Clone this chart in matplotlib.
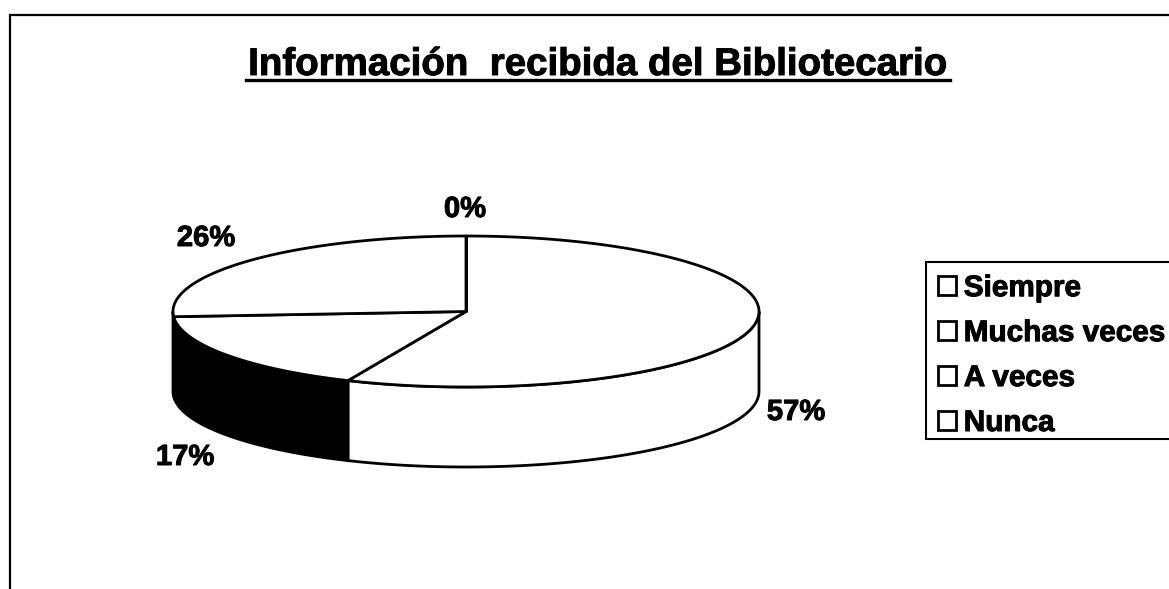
import matplotlib
matplotlib.use("Agg")
import matplotlib.pyplot as plt
from matplotlib.patches import Patch, Rectangle
import matplotlib.patheffects as pe
import numpy as np

plt.rcParams["font.family"] = ["Liberation Sans", "DejaVu Sans"]

title = "Información  recibida del Bibliotecario"
categories = ["Siempre", "Muchas veces", "A veces", "Nunca"]
values = [56.6, 17.3, 26.1, 0]
side_colors = ["white", "black", "white", "white"]

cx, cy = 466, 311.5
a, b = 293, 75.5
depth = 80

heavy = [pe.withStroke(linewidth=0.7, foreground="black")]


def rim(t):
    # t in degrees, clockwise from the top of the pie
    r = np.radians(t)
    return cx + a * np.sin(r), cy - b * np.cos(r)


fig = plt.figure(figsize=(11.69, 5.89), dpi=100)
ax = fig.add_axes([0, 0, 1, 1])
ax.set_xlim(0, 1169)
ax.set_ylim(589, 0)
ax.axis("off")

# frame of the chart area, runs off the right and bottom of the picture
ax.plot([10, 10, 1169], [589, 15, 15], color="black", lw=1.6, solid_joinstyle="miter")

ax.text(598, 75, title, fontsize=27.7, fontweight="bold", ha="center", va="baseline", path_effects=heavy)
ax.plot([246, 950], [80, 80], color="black", lw=2.4)

edges = np.cumsum([0] + values) * 3.6

# side wall, only the front half of the rim shows
for start, end, color in zip(edges[:-1], edges[1:], side_colors):
    lo, hi = max(start, 90), min(end, 270)
    if hi <= lo:
        continue
    t = np.linspace(lo, hi, 80)
    x, y = rim(t)
    ax.fill(
        np.r_[x, x[::-1]],
        np.r_[y, y[::-1] + depth],
        facecolor=color,
        edgecolor="black",
        lw=2,
        zorder=2,
    )

# top face
for start, end in zip(edges[:-1], edges[1:]):
    t = np.linspace(start, end, 120)
    x, y = rim(t)
    ax.fill(
        np.r_[cx, x],
        np.r_[cy, y],
        facecolor="white",
        edgecolor="black",
        lw=2,
        joinstyle="round",
        zorder=3,
    )

label_pos = [(796, 412), (185, 457), (206, 238), (465, 209)]
for v, (lx, ly) in zip(values, label_pos):
    ax.text(lx, ly, f"{v:.0f}%", fontsize=21, fontweight="bold", ha="center", va="center", zorder=4, path_effects=heavy)

# legend box runs off the right of the picture
ax.add_patch(Rectangle((926, 262), 260, 177, facecolor="white", edgecolor="black", lw=1.5))

handles = [Patch(facecolor="white", edgecolor="black", lw=2) for _ in categories]
leg = ax.legend(
    handles,
    categories,
    loc="upper left",
    bbox_to_anchor=(926, 262),
    bbox_transform=ax.transData,
    borderaxespad=0,
    prop={"weight": "bold", "size": 21.4},
    frameon=False,
    handlelength=0.61,
    handleheight=0.61,
    handletextpad=0.25,
    labelspacing=0.57,
    borderpad=0.41,
)
for label in leg.get_texts():
    label.set_path_effects(heavy)

fig.savefig("out.png", dpi=100)
